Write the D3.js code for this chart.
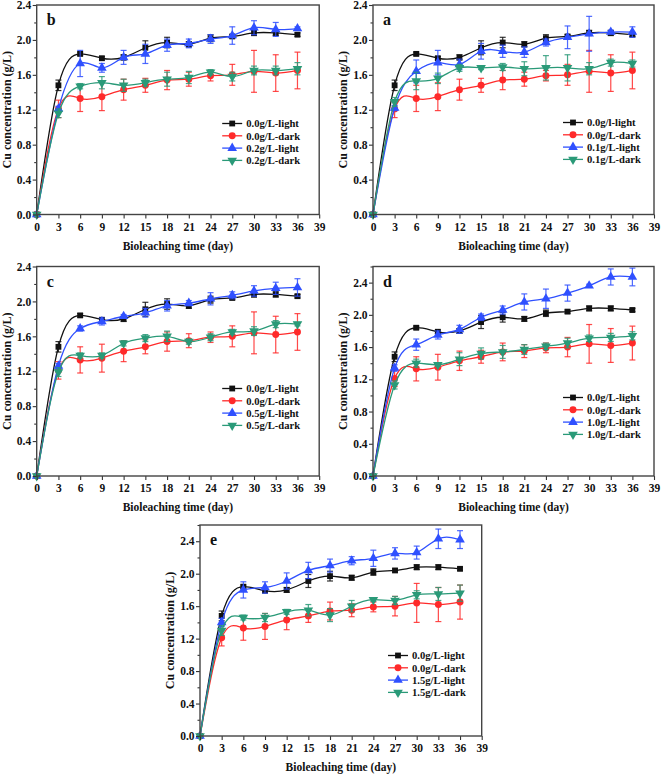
<!DOCTYPE html>
<html><head><meta charset="utf-8">
<script src="https://cdn.jsdelivr.net/npm/d3@7"></script>
<style>
body{margin:0;background:#fff}
text{font-family:"Liberation Serif","Times New Roman",serif;font-weight:bold;fill:#111}
</style>
</head><body>
<svg id="chart" width="661" height="774"></svg>
<script>
// ---------- DATA ----------
const days = [0,3,6,9,12,15,18,21,24,27,30,33,36];
const xTickValues = [0,3,6,9,12,15,18,21,24,27,30,33,36,39];
const yTickValues = [0,0.4,0.8,1.2,1.6,2.0,2.4];
const yMinorValues = [0.2,0.6,1.0,1.4,1.8,2.2,2.6];

// control (0.0 g/L) shared by all panels
const ctrlLight    = [0,1.48,1.84,1.79,1.80,1.91,1.97,1.95,2.02,2.04,2.08,2.08,2.06];
const ctrlLightErr = [0,0.06,0.02,0.02,0.03,0.08,0.06,0.03,0.04,0.02,0.03,0.03,0.02];
const ctrlDark     = [0,1.21,1.33,1.35,1.43,1.48,1.54,1.55,1.59,1.60,1.64,1.62,1.65];
const ctrlDarkErr  = [0,0.10,0.15,0.16,0.12,0.08,0.11,0.08,0.06,0.12,0.24,0.21,0.21];

// 0.1 g/L (panel a)
const a01Light    = [0,1.22,1.64,1.74,1.72,1.87,1.87,1.86,1.97,2.03,2.07,2.09,2.09];
const a01LightErr = [0,0.03,0.13,0.14,0.06,0.09,0.07,0.06,0.04,0.13,0.20,0.02,0.06];
const a01Dark     = [0,1.29,1.53,1.56,1.68,1.68,1.69,1.67,1.68,1.68,1.67,1.74,1.73];
const a01DarkErr  = [0,0.05,0.10,0.06,0.04,0.02,0.04,0.08,0.14,0.15,0.07,0.04,0.04];

// 0.2 g/L (panel b)
const b02Light    = [0,1.21,1.73,1.68,1.80,1.84,1.94,1.96,2.01,2.05,2.14,2.12,2.13];
const b02LightErr = [0,0.03,0.15,0.05,0.08,0.11,0.07,0.05,0.05,0.10,0.08,0.08,0.02];
const b02Dark     = [0,1.16,1.47,1.51,1.48,1.51,1.55,1.57,1.63,1.58,1.65,1.65,1.67];
const b02DarkErr  = [0,0.05,0.03,0.07,0.07,0.04,0.08,0.07,0.03,0.05,0.05,0.05,0.07];

// 0.5 g/L (panel c)
const c05Light    = [0,1.26,1.69,1.77,1.83,1.87,1.95,1.98,2.03,2.07,2.12,2.15,2.16];
const c05LightErr = [0,0.03,0.03,0.04,0.02,0.05,0.06,0.03,0.07,0.04,0.06,0.07,0.10];
const c05Dark     = [0,1.19,1.38,1.38,1.52,1.58,1.60,1.54,1.59,1.65,1.66,1.74,1.74];
const c05DarkErr  = [0,0.05,0.03,0.03,0.03,0.04,0.06,0.03,0.04,0.03,0.05,0.04,0.02];

// 1.0 g/L (panel d)
const d10Light    = [0,1.34,1.63,1.75,1.82,1.97,2.06,2.16,2.20,2.27,2.36,2.47,2.47];
const d10LightErr = [0,0.04,0.07,0.05,0.05,0.04,0.05,0.10,0.12,0.10,0.02,0.10,0.11];
const d10Dark     = [0,1.13,1.40,1.38,1.45,1.52,1.54,1.57,1.61,1.65,1.71,1.72,1.74];
const d10DarkErr  = [0,0.05,0.05,0.02,0.08,0.07,0.08,0.06,0.04,0.06,0.04,0.05,0.05];

// 1.5 g/L (panel e)
const e15Light    = [0,1.40,1.80,1.83,1.91,2.04,2.10,2.16,2.19,2.25,2.26,2.43,2.42];
const e15LightErr = [0,0.05,0.10,0.07,0.10,0.10,0.08,0.05,0.10,0.07,0.08,0.12,0.11];
const e15Dark     = [0,1.30,1.46,1.46,1.53,1.55,1.49,1.60,1.68,1.67,1.74,1.75,1.76];
const e15DarkErr  = [0,0.06,0.03,0.05,0.03,0.07,0.08,0.07,0.02,0.05,0.05,0.08,0.10];

const legendA = ["0.0g/l-light","0.0g/L-dark","0.1g/L-light","0.1g/L-dark"];
const legendB = ["0.0g/L-light","0.0g/L-dark","0.2g/L-light","0.2g/L-dark"];
const legendC = ["0.0g/L-light","0.0g/L-dark","0.5g/L-light","0.5g/L-dark"];
const legendD = ["0.0g/L-light","0.0g/L-dark","1.0g/L-light","1.0g/L-dark"];
const legendE = ["0.0g/L-light","0.0g/L-dark","1.5g/L-light","1.5g/L-dark"];

const xTitle = "Bioleaching time (day)";
const yTitle = "Cu concentration (g/L)";

// ---------- LAYOUT / STYLE ----------
const colors = ["#111111","#ff2a2a","#2f50ff","#2a9a78"];
const symbols = [d3.symbolSquare, d3.symbolCircle, d3.symbolTriangle, "tri-down"];

const panels = [
  {letter:"b", left:36.7, top:5,     w:282.5, h:209.5, ymax:2.4, labels:legendB, light:b02Light, lightErr:b02LightErr, dark:b02Dark, darkErr:b02DarkErr, lgx:185.5, lgy:118.5},
  {letter:"a", left:373,  top:5,     w:281,   h:209.5, ymax:2.4, labels:legendA, light:a01Light, lightErr:a01LightErr, dark:a01Dark, darkErr:a01DarkErr, lgx:190,   lgy:117.5},
  {letter:"c", left:36.7, top:266.5, w:282.5, h:209.5, ymax:2.4, labels:legendC, light:c05Light, lightErr:c05LightErr, dark:c05Dark, darkErr:c05DarkErr, lgx:185.5, lgy:122},
  {letter:"d", left:373,  top:266.5, w:281,   h:209.5, ymax:2.6, labels:legendD, light:d10Light, lightErr:d10LightErr, dark:d10Dark, darkErr:d10DarkErr, lgx:190,   lgy:131},
  {letter:"e", left:200,  top:525,   w:281.7, h:211,   ymax:2.6, labels:legendE, light:e15Light, lightErr:e15LightErr, dark:e15Dark, darkErr:e15DarkErr, lgx:188,   lgy:130.5}
];

const svg = d3.select("#chart");
const sizes = [34, 38, 40, 40];

function addMarker(parent, si) {
  const p = parent.append("path").attr("fill", colors[si]);
  if (symbols[si] === "tri-down") {
    p.attr("d", d3.symbol().type(d3.symbolTriangle).size(sizes[si])()).attr("transform","rotate(180)");
  } else {
    p.attr("d", d3.symbol().type(symbols[si]).size(sizes[si])());
  }
}

function drawPanel(p) {
  const g = svg.append("g").attr("transform", `translate(${p.left},${p.top})`);
  const x = d3.scaleLinear().domain([0,39]).range([0,p.w]);
  const y = d3.scaleLinear().domain([0,p.ymax]).range([p.h,0]);

  const series = [
    {vals:ctrlLight, err:ctrlLightErr},
    {vals:ctrlDark,  err:ctrlDarkErr},
    {vals:p.light,   err:p.lightErr},
    {vals:p.dark,    err:p.darkErr}
  ];

  const line = d3.line().x((d,i)=>x(days[i])).y(d=>y(d)).curve(d3.curveNatural);

  series.forEach((s, si) => {
    const c = colors[si];
    const sg = g.append("g");
    s.vals.forEach((v, i) => {
      const e = s.err[i];
      if (!e) return;
      const cx = x(days[i]);
      sg.append("line").attr("x1",cx).attr("x2",cx).attr("y1",y(v-e)).attr("y2",y(v+e))
        .attr("stroke",c).attr("stroke-width",1.2).attr("opacity",0.85);
      [v-e, v+e].forEach(t => sg.append("line").attr("x1",cx-3).attr("x2",cx+3)
        .attr("y1",y(t)).attr("y2",y(t)).attr("stroke",c).attr("stroke-width",1.2).attr("opacity",0.85));
    });
    sg.append("path").datum(s.vals).attr("d", line).attr("fill","none")
      .attr("stroke", c).attr("stroke-width", 1.3);
    s.vals.forEach((v, i) => {
      const m = sg.append("g").attr("transform", `translate(${x(days[i])},${y(v)})`);
      addMarker(m, si);
    });
  });

  const xa = g.append("g").attr("transform",`translate(0,${p.h})`)
    .call(d3.axisBottom(x).tickValues(xTickValues).tickSize(4).tickPadding(4).tickFormat(d3.format("d")));
  const ya = g.append("g")
    .call(d3.axisLeft(y).tickValues(yTickValues).tickSize(4).tickPadding(1.5).tickFormat(d3.format(".1f")));
  const ym = g.append("g")
    .call(d3.axisLeft(y).tickValues(yMinorValues.filter(v=>v<=p.ymax)).tickSize(2.5).tickFormat(""));
  [xa, ya, ym].forEach(a => {
    a.select(".domain").remove();
    a.selectAll(".tick line").attr("stroke","#333").attr("stroke-width",1.1);
    a.selectAll("text").attr("font-size",11.5).attr("font-family",'"Liberation Serif",serif')
      .attr("font-weight","bold").attr("fill","#111");
  });

  g.append("rect").attr("x",0).attr("y",0).attr("width",p.w).attr("height",p.h)
    .attr("fill","none").attr("stroke","#444").attr("stroke-width",1.4);

  g.append("text").attr("x", p.w/2).attr("y", p.h + 35).attr("text-anchor","middle")
    .attr("font-size",11.5).text(xTitle);
  g.append("text").attr("transform",`translate(${-26},${p.h/2}) rotate(-90)`)
    .attr("text-anchor","middle").attr("font-size",12).text(yTitle);

  g.append("text").attr("x",10).attr("y",20).attr("font-size",16).text(p.letter);

  const lg = g.append("g").attr("transform",`translate(${p.lgx},${p.lgy})`);
  p.labels.forEach((lab, i) => {
    const r = lg.append("g").attr("transform",`translate(0,${i*12.3})`);
    r.append("line").attr("x1",0).attr("x2",20).attr("y1",0).attr("y2",0)
      .attr("stroke",colors[i]).attr("stroke-width",1.3);
    addMarker(r.append("g").attr("transform","translate(10,0)"), i);
    r.append("text").attr("x",24).attr("y",3.8).attr("font-size",10.6).text(lab);
  });
}

panels.forEach(drawPanel);
</script>
</body></html>
